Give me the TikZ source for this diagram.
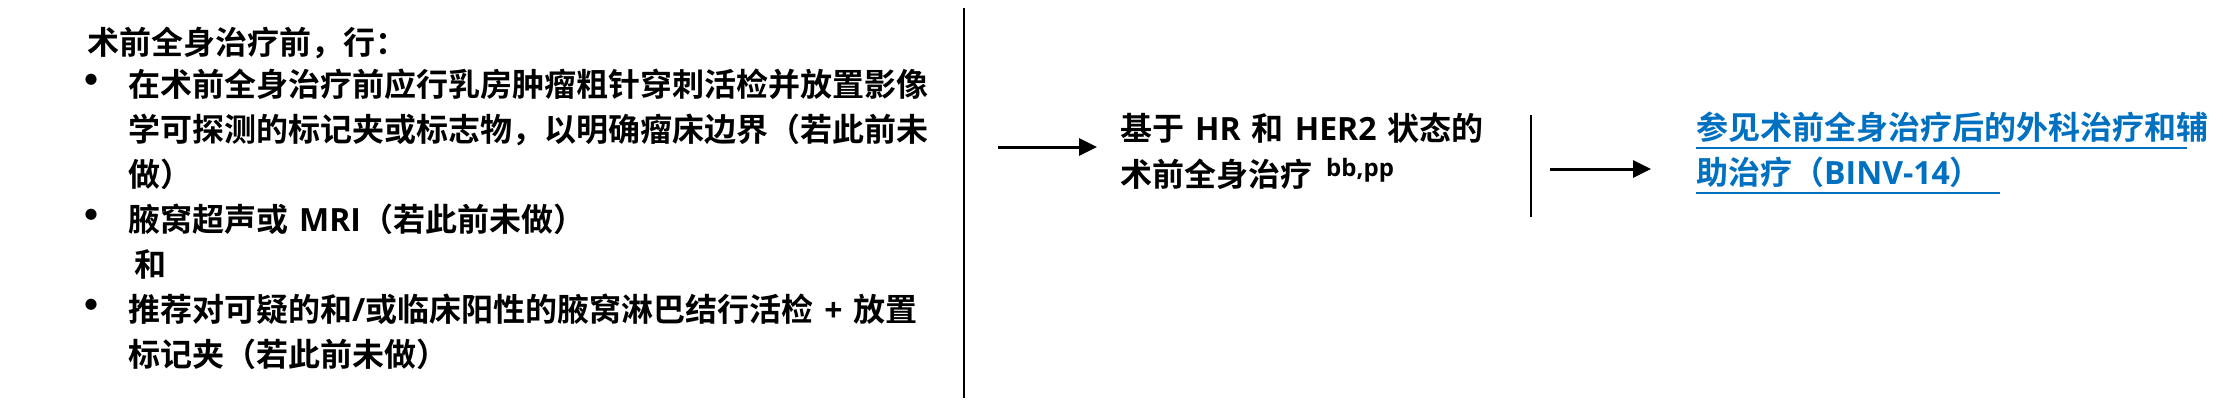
\documentclass[tikz,border=0pt]{standalone}
\usepackage{fontspec}
\setmainfont{Noto Sans CJK SC}[BoldFont={Noto Sans CJK SC Bold}]
\newfontfamily\latinf{Open Sans}
\usetikzlibrary{arrows.meta}
\definecolor{linkblue}{HTML}{0070C0}
\newcommand\LR[1]{{\latinf\bfseries #1}}
\newcommand\bul{\hspace*{-18pt}\raisebox{0pt}{\fontsize{44}{44}\selectfont •}}
\newcommand\wsp{\hspace{11pt}}
\begin{document}
\begin{tikzpicture}[x=1pt,y=-1pt,
  txt/.style={anchor=base west, inner sep=0pt, font=\bfseries\fontsize{32}{45}\selectfont},
  conn/.style={line width=3pt, -{Triangle[length=18pt,width=17pt]}},
  rulel/.style={line width=2.5pt},
  uline/.style={draw=linkblue, line width=2pt}]
\useasboundingbox (0,0) rectangle (2223,405);
\fill[white] (0,0) rectangle (2223,405);

\node[txt] (left) at (87,54) {\begin{tabular}[t]{@{}p{41pt}@{}l@{}}
\multicolumn{2}{@{}l@{}}{术前全身治疗前，行：}\\[-3pt]
\bul & 在术前全身治疗前应行乳房肿瘤粗针穿刺活检并放置影像\\
 & 学可探测的标记夹或标志物，以明确瘤床边界（若此前未\\
 & 做）\\
\bul & 腋窝超声或\wsp\LR{MRI}（若此前未做）\\
 & \hspace*{6pt}和\\
\bul & 推荐对可疑的和\LR{/}或临床阳性的腋窝淋巴结行活检\wsp\LR{+}\wsp 放置\\
 & 标记夹（若此前未做）
\end{tabular}};

\node[txt] (mid) at (1120,140) {\begin{tabular}[t]{@{}l@{}}
基于\wsp\LR{HR}\wsp 和\wsp\LR{HER2}\wsp 状态的\\[1pt]
术前全身治疗\hspace{14pt}\raisebox{10pt}{\LR{\fontsize{24}{24}\selectfont bb,pp}}
\end{tabular}};

\node[txt, text=linkblue] (link) at (1696,139) {\begin{tabular}[t]{@{}l@{}}
参见术前全身治疗后的外科治疗和辅\\
助治疗（\LR{BINV-14}）
\end{tabular}};

\coordinate (r1t) at (964,8);
\coordinate (r1b) at (964,398);
\coordinate (r2t) at (1531,115);
\coordinate (r2b) at (1531,217);
\draw[rulel] (r1t) -- (r1b);
\draw[rulel] (r2t) -- (r2b);

\coordinate (a1s) at (998,147);
\coordinate (a1e) at (1097,147);
\coordinate (a2s) at (1550,169);
\coordinate (a2e) at (1651,169);
\draw[conn] (a1s) -- (a1e);
\draw[conn] (a2s) -- (a2e);

\draw[uline] (1696,148) -- (2187,148);
\draw[uline] (1696,193) -- (2000,193);
\end{tikzpicture}
\end{document}
